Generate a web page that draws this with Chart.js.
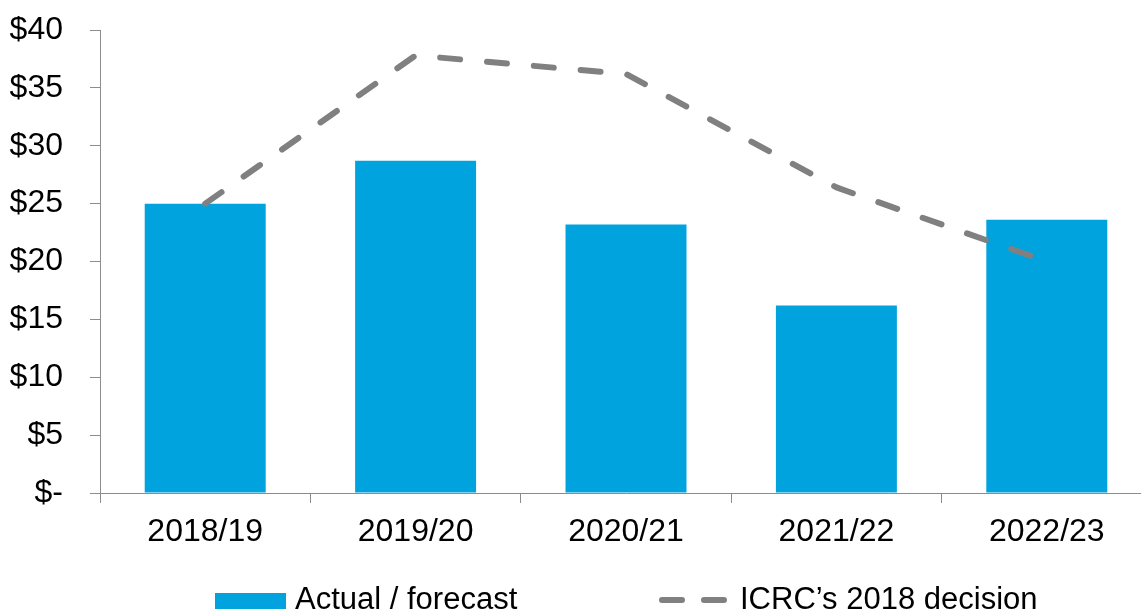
<!DOCTYPE html>
<html>
<head>
<meta charset="utf-8">
<title>Actual / forecast vs ICRC's 2018 decision</title>
<script src="https://cdn.jsdelivr.net/npm/chart.js@4"></script>
<style>
  html, body { margin: 0; padding: 0; background: #fff; overflow: hidden; }
  #wrap { position: relative; width: 1160px; height: 612px; }
</style>
</head>
<body>
<div id="wrap"><canvas id="chart"></canvas></div>
<script>
const years = ['2018/19', '2019/20', '2020/21', '2021/22', '2022/23'];
const actualForecast = [25.0, 28.7, 23.2, 16.2, 23.6];
const icrcDecision = [25.0, 37.8, 36.2, 26.4, 20.0];
const yTickLabels = ['$-', '$5', '$10', '$15', '$20', '$25', '$30', '$35', '$40'];
const seriesNames = ['Actual / forecast', 'ICRC\u2019s 2018 decision'];

const FONT = "'Liberation Sans', Arial, sans-serif";
const BLUE = '#00a3de';
const GREY = '#808080';
const AXIS = '#8c8c8c';

// the two legend items sit far apart, so the legend is drawn by hand
const bottomLegend = {
    id: 'bottomLegend',
    afterDraw(chart) {
        const ctx = chart.ctx;
        const bar = chart.data.datasets.find(d => d.type === 'bar');
        const line = chart.data.datasets.find(d => d.type === 'line');
        ctx.save();
        ctx.font = '31px ' + FONT;
        ctx.textBaseline = 'alphabetic';

        ctx.fillStyle = bar.backgroundColor;
        ctx.fillRect(215, 593, 71, 16);
        ctx.fillStyle = '#000';
        ctx.fillText(bar.label, 295, 609);

        ctx.strokeStyle = line.borderColor;
        ctx.lineWidth = line.borderWidth;
        ctx.lineCap = 'round';
        ctx.setLineDash([20, 22]);
        ctx.beginPath();
        ctx.moveTo(662, 600);
        ctx.lineTo(728, 600);
        ctx.stroke();
        ctx.setLineDash([]);
        ctx.fillText(line.label, 740, 609);
        ctx.restore();
    }
};

new Chart(document.getElementById('chart'), {
    type: 'bar',
    data: {
        labels: years,
        datasets: [
            {
                type: 'line',
                label: seriesNames[1],
                data: icrcDecision,
                borderColor: GREY,
                borderWidth: 6,
                borderDash: [20, 27],
                borderCapStyle: 'round',
                borderJoinStyle: 'round',
                pointRadius: 0,
                tension: 0,
                fill: false,
                order: 0
            },
            {
                type: 'bar',
                label: seriesNames[0],
                data: actualForecast,
                backgroundColor: BLUE,
                borderWidth: 0,
                barPercentage: 0.575,
                categoryPercentage: 1.0,
                order: 1
            }
        ]
    },
    options: {
        responsive: true,
        maintainAspectRatio: false,
        animation: false,
        layout: { padding: { top: 30, left: 0, right: 8, bottom: 59 } },
        plugins: {
            legend: { display: false },
            tooltip: { enabled: false }
        },
        scales: {
            x: {
                afterFit: s => { s.height = 60; },
                grid: { drawOnChartArea: false, tickLength: 10, color: AXIS },
                border: { color: AXIS, width: 1 },
                ticks: {
                    color: '#000',
                    padding: 10,
                    maxRotation: 0,
                    font: { family: FONT, size: 32 }
                }
            },
            y: {
                min: 0,
                max: 40,
                afterFit: s => {
                    s.width = 100;
                    // tick padding would otherwise push the plot top down
                    s.paddingTop = 0;
                    s.paddingBottom = 0;
                },
                grid: { drawOnChartArea: false, tickLength: 10, color: AXIS },
                border: { color: AXIS, width: 1 },
                ticks: {
                    stepSize: 5,
                    color: '#000',
                    padding: 27,
                    font: { family: FONT, size: 32 },
                    callback: (v) => yTickLabels[Math.round(v / 5)]
                }
            }
        }
    },
    plugins: [bottomLegend]
});
</script>
</body>
</html>
